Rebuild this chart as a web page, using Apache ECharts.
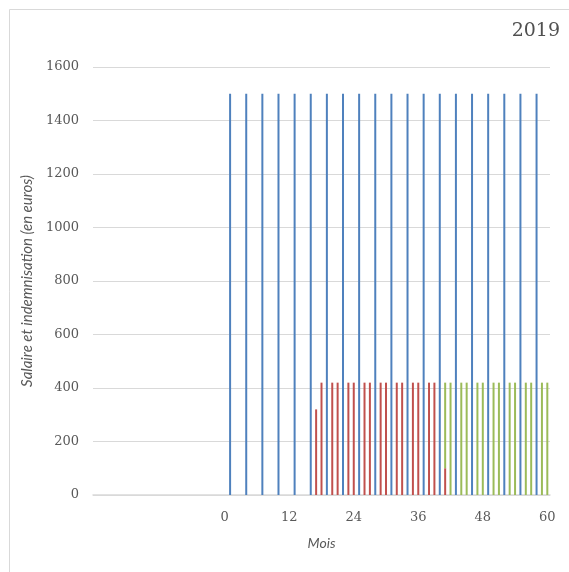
<!DOCTYPE html>
<html>
<head>
<meta charset="utf-8">
<script src="https://cdn.jsdelivr.net/npm/echarts@6/dist/echarts.min.js"></script>
<style>
html,body{margin:0;padding:0;background:#fff;}
#chart{width:569px;height:572px;}
</style>
</head>
<body>
<div id="chart"></div>
<script>
// Months (category axis)
var categories = [-24,-23,-22,-21,-20,-19,-18,-17,-16,-15,-14,-13,-12,-11,-10,-9,-8,-7,-6,-5,-4,-3,-2,-1,
  0,1,2,3,4,5,6,7,8,9,10,11,12,13,14,15,16,17,18,19,20,21,22,23,24,25,26,27,28,29,30,
  31,32,33,34,35,36,37,38,39,40,41,42,43,44,45,46,47,48,49,50,51,52,53,54,55,56,57,58,59,60];
var tickLabels = ['0','12','24','36','48','60'];

// Salaire (blue)
var salaireMonths = [1,4,7,10,13,16,19,22,25,28,31,34,37,40,43,46,49,52,55,58];
var salaireValues = [1500,1500,1500,1500,1500,1500,1500,1500,1500,1500,1500,1500,1500,1500,1500,1500,1500,1500,1500,1500];

// Indemnisation 1 (red)
var indem1Months = [17,18,20,21,23,24,26,27,29,30,32,33,35,36,38,39,41];
var indem1Values = [320,420,420,420,420,420,420,420,420,420,420,420,420,420,420,420,100];

// Indemnisation 2 (green)
var indem2Months = [41,42,44,45,47,48,50,51,53,54,56,57,59,60];
var indem2Values = [320,420,420,420,420,420,420,420,420,420,420,420,420,420];

function toSeries(months, values){
  var arr = categories.map(function(){ return null; });
  months.forEach(function(m, i){
    var idx = categories.indexOf(m);
    if (idx >= 0) arr[idx] = values[i];
  });
  return arr;
}

var chart = echarts.init(document.getElementById('chart'), null, {renderer:'canvas'});
var serif = 'DejaVu Serif';
var sans = 'Lato';
chart.setOption({
  animation:false,
  backgroundColor:'#fff',
  graphic:[{
    type:'rect', shape:{x:9.5,y:9.5,width:700,height:700},
    style:{fill:'none', stroke:'#d9d9d9', lineWidth:1}, silent:true
  }],
  title:{
    text:'2019', right:4, top:17,
    textStyle:{fontFamily:serif, fontSize:19, fontWeight:'normal', color:'#505050'}
  },
  grid:{left:93, right:19, top:67, bottom:77, containLabel:false},
  xAxis:{
    type:'category', data:categories,
    name:'Mois', nameLocation:'middle', nameGap:41,
    nameTextStyle:{fontFamily:sans, fontStyle:'italic', fontSize:14, color:'#595959'},
    axisLine:{show:true, lineStyle:{color:'#d9d9d9', width:1.5}},
    axisTick:{show:false},
    axisLabel:{
      interval:0,
      formatter:function(v){ return tickLabels.indexOf(String(v))>=0 ? String(v) : ''; },
      fontFamily:serif, fontSize:13, color:'#595959', margin:16
    },
    splitLine:{show:false}
  },
  yAxis:{
    type:'value', min:0, max:1600, interval:200,
    name:'Salaire et indemnisation (en euros)', nameLocation:'middle', nameGap:57,
    nameTextStyle:{fontFamily:sans, fontStyle:'italic', fontSize:15, color:'#595959'},
    axisLine:{show:false}, axisTick:{show:false},
    axisLabel:{fontFamily:serif, fontSize:13, color:'#595959', margin:14,
      formatter:function(v){ return String(v); }},
    splitLine:{lineStyle:{color:'#d9d9d9', width:1}}
  },
  series:[
    {name:'Salaire', type:'bar', stack:'s', data:toSeries(salaireMonths, salaireValues),
     barWidth:2, itemStyle:{color:'#4F81BD'}},
    {name:'Indemnisation 1', type:'bar', stack:'s', data:toSeries(indem1Months, indem1Values),
     barWidth:2, itemStyle:{color:'#C0504D'}},
    {name:'Indemnisation 2', type:'bar', stack:'s', data:toSeries(indem2Months, indem2Values),
     barWidth:2, itemStyle:{color:'#9BBB59'}}
  ]
});
</script>
</body>
</html>
